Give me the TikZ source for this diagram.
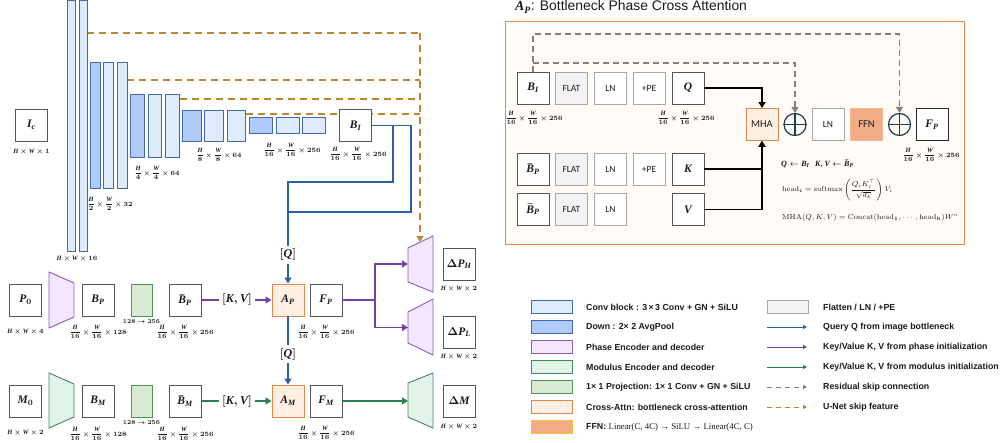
\documentclass[tikz,border=0pt]{standalone}
\usepackage{fix-cm}
\usepackage{amsmath}
\usepackage{bm}
\usepackage{fontspec}
\newfontfamily\arialf{Liberation Sans}
\newfontfamily\tnrf{Liberation Serif}[NFSSFamily=libserif]
\newfontfamily\carlf{Carlito}
\DeclareMathAlphabet{\mbi}{TU}{libserif}{b}{it}
\usetikzlibrary{arrows.meta}
\pgfdeclarelayer{bg}
\pgfsetlayers{bg,main}
\definecolor{txt}{HTML}{1A1A1A}
\definecolor{boxd}{HTML}{555555}
\definecolor{convf}{HTML}{DDEBFD}
\definecolor{convd}{HTML}{4169B2}
\definecolor{downf}{HTML}{B0CBFA}
\definecolor{phf}{HTML}{F3E6FD}
\definecolor{phd}{HTML}{8A5CC2}
\definecolor{modf}{HTML}{E2F4E8}
\definecolor{modd}{HTML}{3E8A5C}
\definecolor{projf}{HTML}{D8EAD3}
\definecolor{projd}{HTML}{4E9457}
\definecolor{caf}{HTML}{FFF0E3}
\definecolor{cad}{HTML}{E0894A}
\definecolor{ffnf}{HTML}{F2AA87}
\definecolor{ffnd}{HTML}{F4B896}
\definecolor{gold}{HTML}{F7C244}
\definecolor{skipo}{HTML}{C0832E}
\definecolor{qblue}{HTML}{2F5EA8}
\definecolor{kvp}{HTML}{7042A8}
\definecolor{kvm}{HTML}{2E7F4F}
\definecolor{resg}{HTML}{808080}
\definecolor{panelf}{HTML}{FFFCF7}
\definecolor{flatf}{HTML}{F2F3F5}
\definecolor{flatd}{HTML}{A8A8A8}
\definecolor{plusc}{HTML}{1E3C50}
\newcommand\fr[2]{\dfrac{\mbi{#1}}{#2}}
\begin{document}
\begin{tikzpicture}[x=1pt,y=-1pt,
  >={Triangle[width=7pt,length=6pt]},
  box/.style={draw=boxd,line width=0.9pt,fill=white,minimum width=32pt,minimum height=32pt,inner sep=0pt,text=txt,font=\fontsize{11.5}{13}\selectfont\boldmath},
  attn/.style={box,draw=cad,fill=caf},
  conv/.style={draw=convd,fill=convf,line width=0.8pt,inner sep=0pt},
  down/.style={conv,fill=downf},
  proj/.style={draw=projd,fill=projf,line width=0.8pt,inner sep=0pt,minimum width=21pt,minimum height=32pt},
  dims/.style={inner sep=0pt,text=txt,font=\fontsize{6.5}{7}\selectfont\boldmath},
  kvtag/.style={inner sep=3pt,fill=white,text=txt,font=\fontsize{12}{14}\selectfont\boldmath},
  skip/.style={draw=skipo,line width=1.3pt,dash pattern=on 7pt off 5pt},
  qline/.style={draw=qblue,line width=1.4pt},
  pline/.style={draw=kvp,line width=1.4pt},
  mline/.style={draw=kvm,line width=1.4pt},
  phase/.style={draw=phd,fill=phf,line width=0.9pt},
  modul/.style={draw=modd,fill=modf,line width=0.9pt},
  flatb/.style={box,draw=flatd,fill=flatf,font=\carlf\fontsize{9.5}{11}\selectfont},
  lnb/.style={box,draw=flatd,font=\carlf\fontsize{9.5}{11}\selectfont},
  mhab/.style={attn,font=\carlf\fontsize{10.5}{12}\selectfont},
  ffnb/.style={box,draw=ffnd,fill=ffnf,font=\carlf\fontsize{10.5}{12}\selectfont},
  oplus/.style={circle,draw=plusc,line width=1.2pt,minimum size=22pt,inner sep=0pt},
  res/.style={draw=resg,line width=1.3pt,dash pattern=on 6pt off 4pt},
  blkline/.style={draw=black,line width=1.4pt},
  formula/.style={inner sep=0pt,anchor=west,text=txt,font=\fontsize{7.3}{9}\selectfont},
  swatch/.style={line width=0.9pt,minimum width=41pt,minimum height=13pt,inner sep=0pt},
  lgt/.style={inner sep=0pt,anchor=west,text=txt,font=\arialf\bfseries\fontsize{8.8}{10}\selectfont},
  lgline/.style={line width=1pt,-{Triangle[width=4pt,length=4pt]}}
]
\useasboundingbox (0,0) rectangle (1003,443);

% ---------------- encoder blocks ----------------
\node[conv,minimum width=8pt,minimum height=251pt] (c1) at (71,125.5) {};
\node[conv,minimum width=8pt,minimum height=251pt] (c2) at (83,125.5) {};
\node[down,minimum width=10pt,minimum height=126pt] (d2) at (95,125.5) {};
\node[conv,minimum width=10pt,minimum height=126pt] (c2a) at (108.5,125.5) {};
\node[conv,minimum width=10pt,minimum height=126pt] (c2b) at (122,125.5) {};
\node[down,minimum width=13.5pt,minimum height=63pt] (d4) at (137.5,125.5) {};
\node[conv,minimum width=13.5pt,minimum height=63pt] (c4a) at (155,125.5) {};
\node[conv,minimum width=13.5pt,minimum height=63pt] (c4b) at (172.5,125.5) {};
\node[down,minimum width=18.5pt,minimum height=31pt] (d8) at (192,125.5) {};
\node[conv,minimum width=18.5pt,minimum height=31pt] (c8a) at (214,125.5) {};
\node[conv,minimum width=18.5pt,minimum height=31pt] (c8b) at (236.5,125.5) {};
\node[down,minimum width=23pt,minimum height=16pt] (d16) at (260.5,125.5) {};
\node[conv,minimum width=23pt,minimum height=16pt] (c16a) at (287.5,125.5) {};
\node[conv,minimum width=23pt,minimum height=16pt] (c16b) at (314,125.5) {};
\node[box] (BI) at (355.5,125.5) {$\mbi{B}_{\mbi{I}}$};
\node[box] (Ic) at (31.5,125) {$\mbi{I}_{\mbi{c}}$};

\node[dims] (lIc) at (31.5,152) {$\mbi{H}\times \mbi{W}\times 1$};
\node[dims] (lc1) at (77,259) {$\mbi{H}\times \mbi{W}\times 16$};
\node[dims] (l2) at (110,204) {$\fr{H}{2}\times\fr{W}{2}\times 32$};
\node[dims] (l4) at (157,173) {$\fr{H}{4}\times\fr{W}{4}\times 64$};
\node[dims] (l8) at (219,155) {$\fr{H}{8}\times\fr{W}{8}\times 64$};
\node[dims] (l16) at (292,150) {$\fr{H}{16}\times\fr{W}{16}\times 256$};
\node[dims] (lBI) at (358,154) {$\fr{H}{16}\times\fr{W}{16}\times 256$};

% U-Net skip lines
\coordinate (sk1) at (420,33);
\coordinate (sk2) at (420,80);
\coordinate (sk3) at (420,99);
\coordinate (sk4) at (420,114);
\coordinate (dphtop) at (420,242);
\begin{pgfonlayer}{bg}
\draw[skip] (c2.east |- sk1) -- (sk1);
\draw[skip] (c2b.east |- sk2) -- (sk2);
\draw[skip] (c4b.east |- sk3) -- (sk3);
\draw[skip] (c8b.east |- sk4) -- (sk4);
\end{pgfonlayer}
\draw[skip,-{Triangle[width=7pt,length=6pt]}] (sk1) -- (dphtop);

% ---------------- phase / modulus rows ----------------
\node[box] (P0) at (25.5,300) {$\mbi{P}_{0}$};
\draw[phase] (49,272) -- (74,283) -- (74,317) -- (49,328) -- cycle;
\node[box] (BP) at (98,300) {$\mbi{B}_{\mbi{P}}$};
\node[proj] (pr1) at (141.5,300) {};
\node[box] (Bbp) at (185,300) {$\bar{\mbi{B}}_{\mbi{P}}$};
\node[attn] (AP) at (288,300) {$\mbi{A}_{\mbi{P}}$};
\node[box] (FP) at (326,300) {$\mbi{F}_{\mbi{P}}$};

\node[box] (M0) at (25.5,401) {$\mbi{M}_{0}$};
\draw[modul] (49,373) -- (74,384) -- (74,417) -- (49,428) -- cycle;
\node[box] (BM) at (98,401) {$\mbi{B}_{\mbi{M}}$};
\node[proj] (pr2) at (141.5,401) {};
\node[box] (Bbm) at (185,401) {$\bar{\mbi{B}}_{\mbi{M}}$};
\node[attn] (AM) at (288,401) {$\mbi{A}_{\mbi{M}}$};
\node[box] (FM) at (326,401) {$\mbi{F}_{\mbi{M}}$};

\node[dims] (lP0) at (25.5,332) {$\mbi{H}\times \mbi{W}\times 4$};
\node[dims] (lBP) at (98,332) {$\fr{H}{16}\times\fr{W}{16}\times 128$};
\node[dims,font=\fontsize{6}{7}\selectfont\boldmath] (lpr1) at (141.5,322) {$128\rightarrow 256$};
\node[dims] (lBbp) at (185,332) {$\fr{H}{16}\times\fr{W}{16}\times 256$};
\node[dims] (lFP) at (326,332) {$\fr{H}{16}\times\fr{W}{16}\times 256$};
\node[dims] (lM0) at (25.5,433) {$\mbi{H}\times \mbi{W}\times 2$};
\node[dims] (lBM) at (98,434) {$\fr{H}{16}\times\fr{W}{16}\times 128$};
\node[dims,font=\fontsize{6}{7}\selectfont\boldmath] (lpr2) at (141.5,423) {$128\rightarrow 256$};
\node[dims] (lBbm) at (185,434) {$\fr{H}{16}\times\fr{W}{16}\times 256$};
\node[dims] (lFM) at (326,433) {$\fr{H}{16}\times\fr{W}{16}\times 256$};

% decoders
\draw[phase] (408,248) -- (433,236) -- (433,292) -- (408,282) -- cycle;
\draw[phase] (408,312) -- (433,299) -- (433,355) -- (408,343) -- cycle;
\draw[modul] (408,383) -- (433,373) -- (433,428) -- (408,417) -- cycle;
\coordinate (dphin) at (408,264);
\coordinate (dplin) at (408,327.5);
\coordinate (dmin) at (408,401);
\coordinate (fork) at (375,300);
\node[box] (DPH) at (459,264) {$\Delta \mbi{P}_{\mbi{H}}$};
\node[box] (DPL) at (459,332) {$\Delta \mbi{P}_{\mbi{L}}$};
\node[box] (DM) at (459,401) {$\Delta \mbi{M}$};
\node[dims] (lDPH) at (459,289) {$\mbi{H}\times \mbi{W}\times 2$};
\node[dims] (lDPL) at (459,357) {$\mbi{H}\times \mbi{W}\times 2$};
\node[dims] (lDM) at (459,427) {$\mbi{H}\times \mbi{W}\times 2$};

% Q lines
\coordinate (q1) at (393,182);
\coordinate (q2) at (411,212);
\draw[qline] (BI.east) -| (q2) -- (q2 -| AP.north);
\draw[qline,->] (BI.east) -| (q1) -| (AP.north);
\node[kvtag] (Qa) at (288,255) {$[\mbi{Q}]$};
\draw[qline,->] (AP.south) -- (AM.north);
\node[kvtag] (Qb) at (288,354) {$[\mbi{Q}]$};

% K,V lines
\node[kvtag] (KVp) at (237,300) {$[\mbi{K},\mbi{V}]$};
\draw[pline] (Bbp.east) -- (KVp.west);
\draw[pline,->] (KVp.east) -- (AP.west);
\node[kvtag] (KVm) at (237,401) {$[\mbi{K},\mbi{V}]$};
\draw[mline] (Bbm.east) -- (KVm.west);
\draw[mline,->] (KVm.east) -- (AM.west);

% outputs
\draw[pline] (FP.east) -- (fork);
\draw[pline,->] (fork) |- (dphin);
\draw[pline,->] (fork) |- (dplin);
\draw[mline,->] (FM.east) -- (dmin);

% ---------------- attention panel ----------------
\node[anchor=base west,inner sep=0pt,text=txt,font=\arialf\fontsize{13.9}{15}\selectfont] (title) at (515,11) {$\mbi{A}_{\mbi{P}}$: Bottleneck Phase Cross Attention};
\draw[draw=cad,fill=panelf,line width=1pt] (505,22) rectangle (964,245);

\node[box] (pBI) at (533,88) {$\mbi{B}_{\mbi{I}}$};
\node[flatb] (pF1) at (571.5,88) {FLAT};
\node[lnb] (pL1) at (610.5,88) {LN};
\node[lnb] (pE1) at (649,88) {+PE};
\node[box] (pQ) at (688,88) {$\mbi{Q}$};
\node[box] (pB2) at (533,169) {$\bar{\mbi{B}}_{\mbi{P}}$};
\node[flatb] (pF2) at (571.5,169) {FLAT};
\node[lnb] (pL2) at (610.5,169) {LN};
\node[lnb] (pE2) at (649,169) {+PE};
\node[box] (pK) at (688,169) {$\mbi{K}$};
\node[box] (pB3) at (533,209.5) {$\bar{\mbi{B}}_{\mbi{P}}$};
\node[flatb] (pF3) at (571.5,209.5) {FLAT};
\node[lnb] (pL3) at (610.5,209.5) {LN};
\node[box] (pV) at (688,209.5) {$\mbi{V}$};
\node[dims] (lpBI) at (534,118) {$\fr{H}{16}\times\fr{W}{16}\times 256$};
\node[dims] (lpQ) at (686,118) {$\fr{H}{16}\times\fr{W}{16}\times 256$};

\node[mhab] (MHA) at (762,124.5) {MHA};
\node[oplus] (pl1) at (795,124.5) {};
\draw[plusc,line width=1.2pt] (pl1.north) -- (pl1.south) (pl1.west) -- (pl1.east);
\node[lnb,draw=flatd] (LN) at (828,124.5) {LN};
\node[ffnb] (FFN) at (866.5,124.5) {FFN};
\node[oplus] (pl2) at (899.5,124.5) {};
\draw[plusc,line width=1.2pt] (pl2.north) -- (pl2.south) (pl2.west) -- (pl2.east);
\node[box,draw=black!85] (pFP) at (932,124.5) {$\mbi{F}_{\mbi{P}}$};
\node[dims] (lpFP) at (931,155) {$\fr{H}{16}\times\fr{W}{16}\times 256$};

\draw[blkline,->] (pQ.east) -| (MHA.north);
\draw[blkline,->] (pV.east) -| (MHA.south);
\draw[blkline,->] (pK.east) -| (MHA.south);

\coordinate (r1) at (533,34);
\coordinate (r2) at (533,63);
\draw[res,-{Triangle[width=7pt,length=6pt]}] (pBI.north) -- (r1) -| (pl2.north);
\draw[res,-{Triangle[width=7pt,length=6pt]}] (r2) -| (pl1.north);

\node[formula,font=\fontsize{8}{9}\selectfont\boldmath] (f1) at (781,164) {$\mbi{Q}\leftarrow \mbi{B}_{\mbi{I}}\ \ \mbi{K},\mbi{V}\leftarrow \bar{\mbi{B}}_{\mbi{P}}$};
\node[formula] (f2) at (782,190) {$\mathrm{head}_{\bm{i}}=\mathrm{softmax}\left(\dfrac{Q_iK_i^{\top}}{\sqrt{d_k}}\right)V_i$};
\node[formula] (f3) at (782,218) {$\mathrm{MHA}(Q,K,V)=\mathrm{Concat}(\mathrm{head}_{\bm{1}},\cdots,\mathrm{head}_{\bm{h}})W^o$};

% ---------------- legend ----------------
\node[swatch,draw=convd,fill=convf] (g1) at (551.5,307) {};
\node[swatch,draw=convd,fill=downf] (g2) at (551.5,327) {};
\node[swatch,draw=phd,fill=phf] (g3) at (551.5,347) {};
\node[swatch,draw=modd,fill=modf] (g4) at (551.5,367) {};
\node[swatch,draw=projd,fill=projf] (g5) at (551.5,387) {};
\node[swatch,draw=cad,fill=caf] (g6) at (551.5,407) {};
\node[swatch,draw=gold,fill=ffnf] (g7) at (551.5,427) {};
\node[lgt] (t1) at (586,307) {Conv block : 3\,×\,3 Conv + GN + SiLU};
\node[lgt] (t2) at (586,327) {Down : 2× 2 AvgPool};
\node[lgt] (t3) at (586,347) {Phase Encoder and decoder};
\node[lgt] (t4) at (586,367) {Modulus Encoder and decoder};
\node[lgt] (t5) at (586,387) {1× 1 Projection: 1× 1 Conv + GN + SiLU};
\node[lgt] (t6) at (586,407) {Cross-Attn: bottleneck cross-attention};
\node[lgt] (t7) at (586,427) {FFN: {\tnrf\mdseries Linear(C, 4C) → SiLU → Linear(4C, C)}};

\node[swatch,draw=flatd,fill=flatf] (g8) at (788,307) {};
\coordinate (a2) at (767,327); \coordinate (b2) at (807,327);
\coordinate (a3) at (767,347); \coordinate (b3) at (807,347);
\coordinate (a4) at (767,367); \coordinate (b4) at (807,367);
\coordinate (a5) at (767,387); \coordinate (b5) at (807,387);
\coordinate (a6) at (767,407); \coordinate (b6) at (807,407);
\draw[lgline,qblue] (a2) -- (b2);
\draw[lgline,kvp] (a3) -- (b3);
\draw[lgline,kvm] (a4) -- (b4);
\draw[lgline,resg,dash pattern=on 5pt off 4pt] (a5) -- (b5);
\draw[lgline,skipo,dash pattern=on 5pt off 4pt] (a6) -- (b6);
\node[lgt] (t8) at (823,307) {Flatten / LN / +PE};
\node[lgt] (t9) at (823,327) {Query Q from image bottleneck};
\node[lgt] (t10) at (823,347) {Key/Value K, V from phase initialization};
\node[lgt] (t11) at (823,367) {Key/Value K, V from modulus initialization};
\node[lgt] (t12) at (823,387) {Residual skip connection};
\node[lgt] (t13) at (823,407) {U-Net skip feature};
\end{tikzpicture}
\end{document}
